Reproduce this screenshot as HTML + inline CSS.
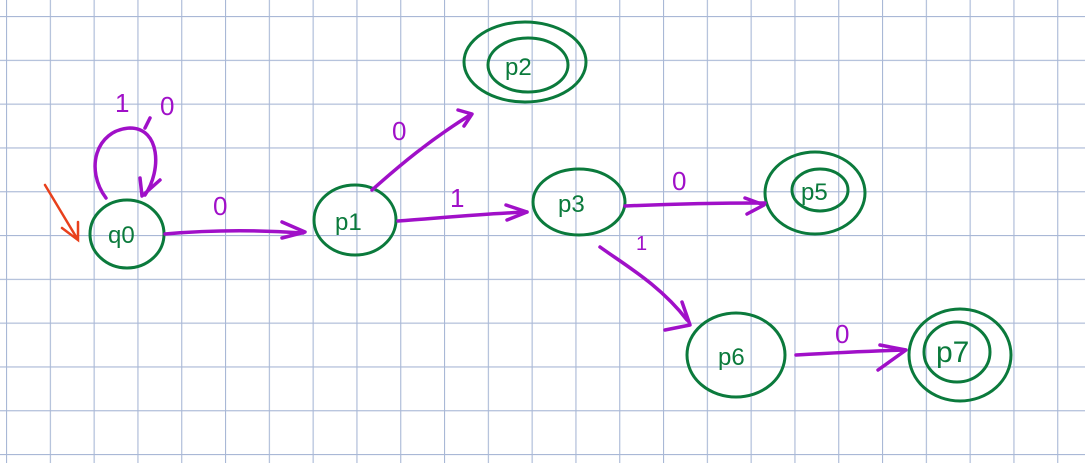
<!DOCTYPE html>
<html><head><style>
html,body{margin:0;padding:0;background:#fff}
svg{display:block}
text{font-family:"Liberation Sans",sans-serif}
</style></head><body>
<svg width="1085" height="463" viewBox="0 0 1085 463" xmlns="http://www.w3.org/2000/svg">
<defs>
<pattern id="g" x="6" y="16" width="43.8" height="43.8" patternUnits="userSpaceOnUse">
<path d="M0 0V43.8M0 0H43.8" stroke="#a9b8d6" stroke-width="2.2" fill="none"/>
</pattern>
</defs>
<rect width="1085" height="463" fill="#fff"/>
<rect width="1085" height="463" fill="url(#g)"/>

<g fill="none" stroke="#0b7a3c" stroke-width="3" stroke-linecap="round">
<ellipse cx="127" cy="234" rx="37" ry="34"/>
<ellipse cx="355" cy="220" rx="41" ry="35"/>
<ellipse cx="525" cy="62" rx="61" ry="40"/>
<ellipse cx="528" cy="65" rx="40" ry="27"/>
<ellipse cx="579" cy="202" rx="46" ry="33"/>
<ellipse cx="815" cy="193" rx="50" ry="41"/>
<ellipse cx="820" cy="190" rx="28" ry="21"/>
<ellipse cx="736" cy="355" rx="49" ry="42"/>
<ellipse cx="960" cy="355" rx="51" ry="46"/>
<ellipse cx="957" cy="352" rx="33" ry="30"/>
</g>
<g fill="#0b7a3c" font-size="24">
<text x="108" y="243">q0</text>
<text x="335" y="230">p1</text>
<text x="505" y="75">p2</text>
<text x="558" y="212">p3</text>
<text x="801" y="200">p5</text>
<text x="718" y="365">p6</text>
<text x="936" y="362" font-size="30">p7</text>
</g>

<g fill="none" stroke="#a010c8" stroke-width="3.5" stroke-linecap="round" stroke-linejoin="round">
<path d="M106 198 C85 170 95 130 130 128 C160 128 162 170 145 195"/>
<path d="M140 178 L142 196 L160 180"/>
<path d="M145 128 L150 118"/>
<path d="M165 234 C210 230 260 230 303 233"/>
<path d="M282 222 L305 232 L282 238"/>
<path d="M372 190 C400 165 430 140 470 115"/>
<path d="M458 110 L472 114 L464 126"/>
<path d="M398 221 C440 218 480 214 527 212"/>
<path d="M506 205 L527 212 L507 220"/>
<path d="M625 206 C670 204 720 203 765 203"/>
<path d="M745 198 L764 205 L747 214"/>
<path d="M600 247 C625 265 660 285 687 320"/>
<path d="M682 302 L690 325 L665 330"/>
<path d="M796 355 C830 353 870 351 905 350"/>
<path d="M880 345 L906 350 L878 370"/>
</g>
<g fill="#a010c8" font-size="26">
<text x="115" y="112">1</text>
<text x="160" y="115">0</text>
<text x="213" y="215">0</text>
<text x="392" y="140">0</text>
<text x="450" y="207">1</text>
<text x="672" y="190">0</text>
<text x="636" y="250" font-size="20">1</text>
<text x="835" y="343">0</text>
</g>
<path d="M45 185 L78 240 M62 228 L78 240 L78 222" stroke="#e8401c" stroke-width="2.5" fill="none" stroke-linecap="round"/>
</svg>
</body></html>
